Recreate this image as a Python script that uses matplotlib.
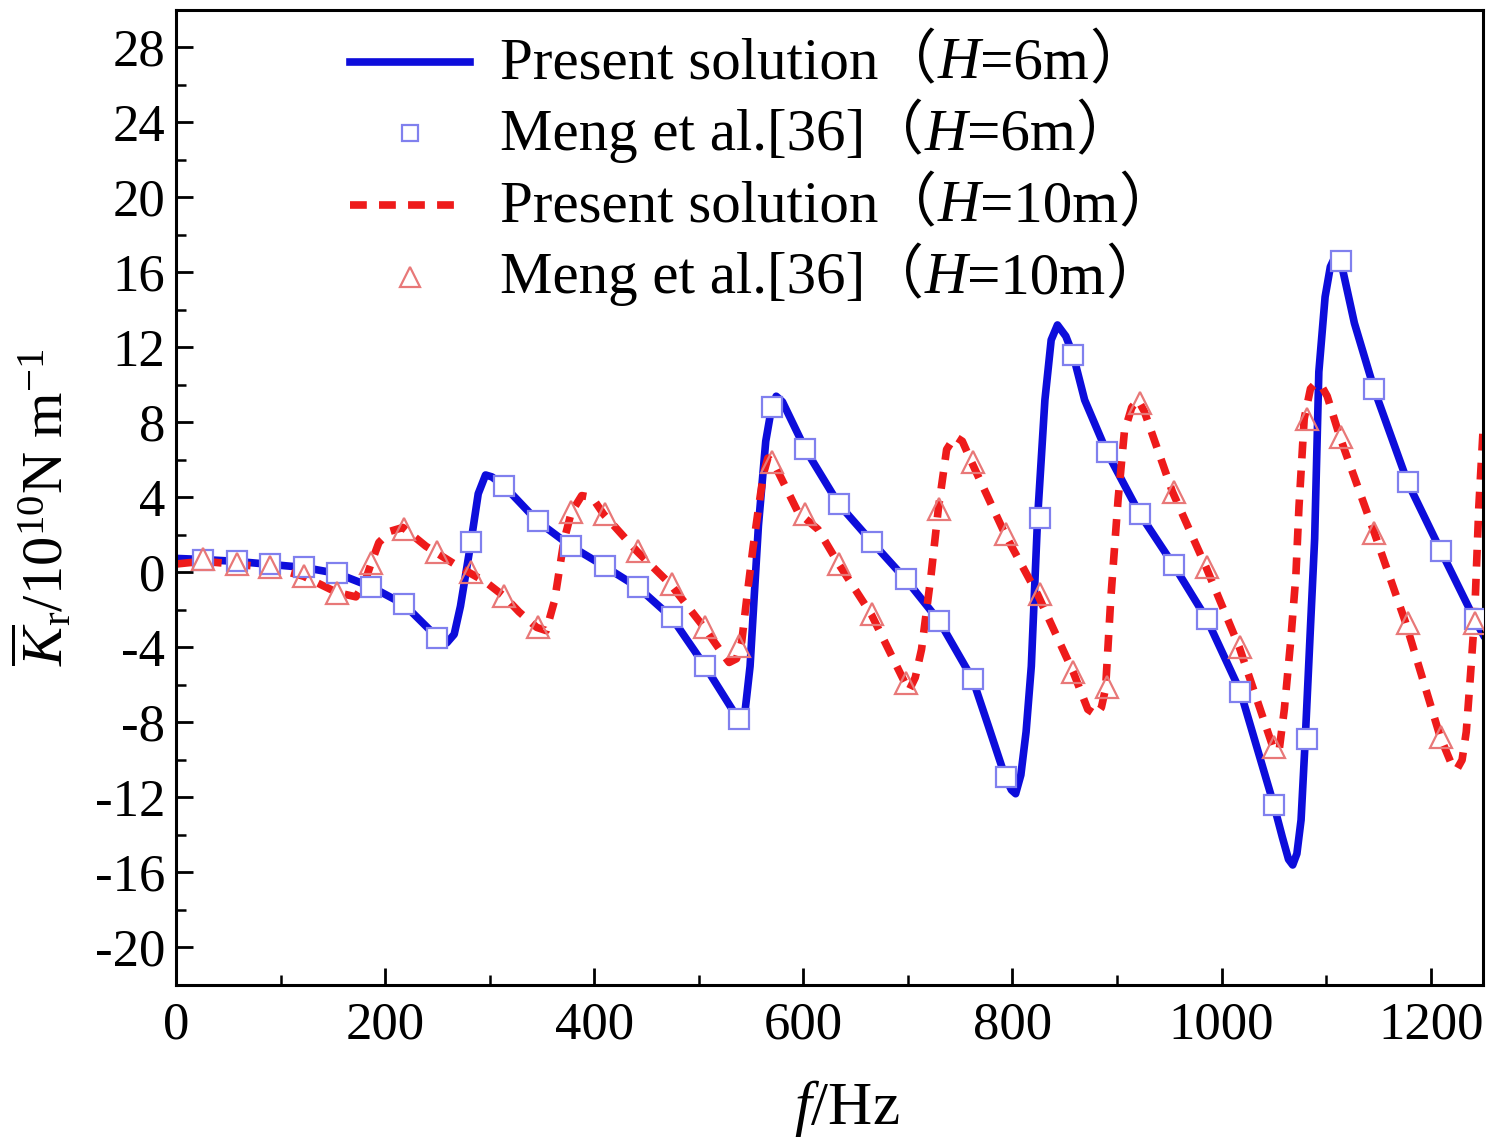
import numpy as np
import matplotlib
matplotlib.use("Agg")
import matplotlib.pyplot as plt
from matplotlib.ticker import MultipleLocator
from matplotlib.offsetbox import TextArea, HPacker, AnnotationBbox

plt.rcParams["font.family"] = ["Liberation Serif", "Noto Sans CJK SC"]
plt.rcParams["mathtext.fontset"] = "custom"
plt.rcParams["mathtext.rm"] = "Liberation Serif"
plt.rcParams["mathtext.it"] = "Liberation Serif:italic"
plt.rcParams["mathtext.bf"] = "Liberation Serif:bold"
plt.rcParams["axes.unicode_minus"] = False

BLUE = "#0d0ddb"
RED = "#ee1b1b"
SQ_EDGE = "#8080ee"
TRI_EDGE = "#e87878"

# ---- data ---------------------------------------------------------------
# present solution, H = 6 m (solid blue)
f_h6 = [0, 26, 58, 90, 122, 154, 186, 218, 250, 259, 266, 272, 282, 289, 296,
        302, 314, 346, 378, 410, 442, 474, 506, 538, 543, 549, 557, 564, 569, 574,
        580, 602, 634, 666, 698, 730, 762, 777, 793, 799, 803, 808, 813, 818, 824,
        831, 837, 843, 851, 858, 869, 890, 922, 954, 986, 1018, 1050, 1058, 1064, 1068,
        1072, 1076, 1080, 1085, 1089, 1093, 1099, 1104, 1109, 1114, 1127, 1146, 1178, 1210, 1242,
        1250]
k_h6 = [0.75, 0.69, 0.59, 0.43, 0.27, -0.05, -0.75, -1.7, -3.47, -3.75, -3.3, -1.8, 1.6, 4.2, 5.2,
        5.1, 4.6, 2.72, 1.39, 0.32, -0.8, -2.4, -5.0, -7.84, -8.0, -5.0, 2.5, 7.0, 8.6, 9.4,
        9.1, 6.56, 3.63, 1.6, -0.37, -2.6, -5.7, -8.2, -10.9, -11.6, -11.8, -10.8, -8.5, -5.0, 2.9,
        9.2, 12.4, 13.2, 12.6, 11.6, 9.2, 6.45, 3.1, 0.4, -2.5, -6.35, -12.4, -14.1, -15.3, -15.6,
        -15.0, -13.2, -8.9, -2.9, 1.8, 10.7, 14.7, 16.3, 16.9, 16.6, 13.3, 9.76, 4.8, 1.12, -2.5,
        -3.3]

# present solution, H = 10 m (dashed red)
f_h10 = [0, 26, 58, 90, 122, 154, 172, 180, 186, 194, 205, 217, 239, 270, 296,
         314, 328, 345, 354, 362, 371, 378, 388, 398, 409, 441, 473, 505, 521, 529,
         536, 541, 546, 552, 558, 562, 566, 572, 595, 614, 634, 665, 697, 701, 707,
         713, 722, 729, 737, 745, 752, 761, 793, 824, 858, 872, 880, 885, 889, 894,
         901, 907, 914, 920, 926, 953, 985, 1017, 1049, 1055, 1060, 1066, 1071, 1074, 1079,
         1085, 1090, 1096, 1101, 1113, 1146, 1176, 1209, 1219, 1225, 1230, 1234, 1238, 1242, 1246,
         1250]
k_h10 = [0.45, 0.6, 0.43, 0.27, -0.2, -1.07, -1.3, -0.6, 0.4, 1.6, 2.2, 2.4, 1.4, 0.32, -0.5,
         -1.28, -2.1, -2.93, -3.1, -1.5, 1.7, 3.2, 4.1, 4.0, 3.1, 1.12, -0.64, -2.93, -4.2, -4.8,
         -4.6, -3.7, -1.3, 1.4, 3.8, 5.3, 6.1, 5.8, 3.2, 2.3, 0.43, -2.24, -5.87, -6.3, -5.6,
         -4.1, -0.2, 3.36, 6.56, 7.25, 7.0, 5.87, 2.03, -1.17, -5.3, -7.3, -7.6, -7.2, -6.2, -1.4,
         3.9, 7.5, 8.8, 9.2, 8.6, 4.3, 0.3, -4.0, -9.3, -9.5, -7.3, -3.7, -0.2, 3.5, 8.2,
         9.8, 10.1, 9.9, 9.4, 7.25, 2.13, -2.67, -8.75, -10.1, -10.5, -10.0, -8.5, -5.5, -2.3, 3.5,
         7.5]

# Meng et al. [36] reference points
f_meng = [26, 58, 90, 122, 154, 186, 218, 250, 282, 314, 346, 378, 410, 442, 474,
          506, 538, 570, 602, 634, 666, 698, 730, 762, 794, 826, 858, 890, 922, 954,
          986, 1018, 1050, 1082, 1114, 1146, 1178, 1210, 1242]
meng_h6 = [0.69, 0.59, 0.43, 0.27, -0.05, -0.75, -1.7, -3.47, 1.6, 4.6, 2.72, 1.39, 0.32, -0.8, -2.4,
           -5.0, -7.84, 8.85, 6.56, 3.63, 1.6, -0.37, -2.6, -5.7, -10.9, 2.9, 11.6, 6.45, 3.1, 0.4,
           -2.5, -6.35, -12.4, -8.9, 16.6, 9.76, 4.8, 1.12, -2.5]
meng_h10 = [0.7, 0.43, 0.27, -0.2, -1.07, 0.53, 2.3, 1.1, 0.0, -1.28, -2.93, 3.2, 3.1, 1.12, -0.64,
            -2.93, -3.9, 5.9, 3.1, 0.43, -2.24, -5.87, 3.36, 5.87, 2.03, -1.17, -5.3, -6.1, 9.06, 4.3,
            0.3, -4.0, -9.33, 8.16, 7.25, 2.13, -2.67, -8.75, -2.67]

x_ticks = [0, 200, 400, 600, 800, 1000, 1200]
y_ticks = [-20, -16, -12, -8, -4, 0, 4, 8, 12, 16, 20, 24, 28]

# ---- figure ---------------------------------------------------------------
fig = plt.figure(figsize=(15.01, 11.44), dpi=100)
ax = fig.add_axes([0.1173, 0.139, 0.8707, 0.8523])

ax.plot(f_h6, k_h6, color=BLUE, lw=5.5, zorder=2, solid_joinstyle="round")
ax.plot(f_h10, k_h10, color=RED, lw=5.5, ls=(0, (2.2, 1.6)), zorder=2)
ax.plot(f_meng, meng_h6, ls="none", marker="s", ms=14, mfc="white", mec=SQ_EDGE,
        mew=1.6, zorder=3)
ax.plot(f_meng, meng_h10, ls="none", marker="^", ms=16, mfc="none", mec=TRI_EDGE,
        mew=1.6, zorder=3)

ax.set_xlim(0, 1250)
ax.set_ylim(-22, 30)
ax.set_xticks(x_ticks)
ax.set_yticks(y_ticks)
ax.xaxis.set_minor_locator(MultipleLocator(100))
ax.yaxis.set_minor_locator(MultipleLocator(2))
ax.tick_params(which="major", direction="in", length=12, width=2, labelsize=38, pad=12)
ax.tick_params(which="minor", direction="in", length=7, width=1.8)
ax.tick_params(axis="y", pad=8)
for sp in ax.spines.values():
    sp.set_linewidth(2.2)

ax.set_xlabel(r"$f$/Hz", fontsize=44)
ax.xaxis.set_label_coords(0.513, -0.095)
ax.set_ylabel(r"$\overline{K}_{\mathrm{r}}$/10$^{10}$N m$^{-1}$", fontsize=42)
ax.yaxis.set_label_coords(-0.077, 0.49)

# ---- hand-built legend (mixed fonts: serif text, CJK full-width brackets) --
rows_y = [0.9467, 0.8738, 0.800, 0.7262]
hx0, hx1, hmid, tx = 0.133, 0.225, 0.179, 0.2479
ax.plot([hx0, hx1], [rows_y[0]] * 2, transform=ax.transAxes, color=BLUE, lw=5.5,
        clip_on=False)
ax.plot([hmid], [rows_y[1]], transform=ax.transAxes, ls="none", marker="s", ms=12,
        mfc="white", mec=SQ_EDGE, mew=1.6, clip_on=False)
ax.plot([hx0, hx1 - 0.004], [rows_y[2]] * 2, transform=ax.transAxes, color=RED, lw=5.5,
        ls=(0, (2.2, 1.6)), clip_on=False)
ax.plot([hmid], [rows_y[3]], transform=ax.transAxes, ls="none", marker="^", ms=14,
        mfc="none", mec=TRI_EDGE, mew=1.6, clip_on=False)

LEG_FS = 42.5
serif = dict(fontfamily="Liberation Serif", fontsize=LEG_FS)
serif_it = dict(fontfamily="Liberation Serif", fontsize=LEG_FS, fontstyle="italic")
cjk = dict(fontfamily="Noto Sans CJK SC", fontsize=LEG_FS)
labels = [("Present solution", "=6m"), ("Meng et al.[36]", "=6m"),
          ("Present solution", "=10m"), ("Meng et al.[36]", "=10m")]
for (name, val), y in zip(labels, rows_y):
    parts = [TextArea(name, textprops=serif), TextArea("（", textprops=cjk),
             TextArea("H", textprops=serif_it), TextArea(val, textprops=serif),
             TextArea("）", textprops=cjk)]
    box = HPacker(children=parts, align="baseline", pad=0, sep=0)
    ab = AnnotationBbox(box, (tx, y), xycoords="axes fraction", box_alignment=(0, 0.5),
                        frameon=False, pad=0)
    ax.add_artist(ab)

fig.savefig("out.png", dpi=100)
